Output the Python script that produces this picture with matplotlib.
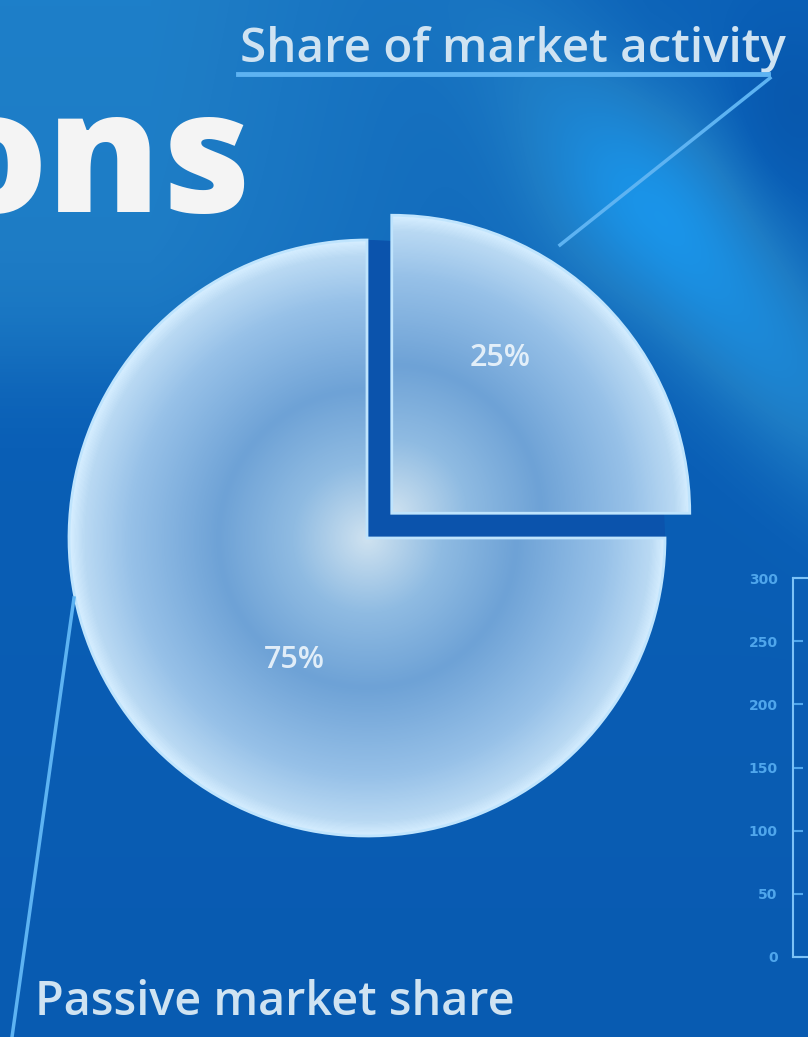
import numpy as np
import matplotlib.pyplot as plt
from matplotlib.colors import LinearSegmentedColormap
from matplotlib.patches import Wedge

# chart values
pie_labels = ['Share of market activity', 'Passive market share']
pie_values = [25, 75]
pie_pct = ['25%', '75%']
axis_ticks = [0, 50, 100, 150, 200, 250, 300]
title_fragment = 'ons'

W, H = 808, 1037
fig = plt.figure(figsize=(W / 100, H / 100), dpi=100)
ax = fig.add_axes([0, 0, 1, 1])


def fit_width(t, left, right):
    # scale a text so its drawn box spans left..right (pixels)
    r = fig.canvas.get_renderer()
    bb = t.get_window_extent(r)
    t.set_fontsize(t.get_fontsize() * (right - left) / bb.width)
    bb = t.get_window_extent(r)
    x, y = t.get_position()
    t.set_position((x + left - bb.x0, y))


# background: blue, lighter band at the top left, soft bright streak on the right
# (row 0 = top of picture)
yy, xx = np.mgrid[0:H, 0:W].astype(float)
field = 0.32 - 0.08 * (yy / H)
field += 0.2 / (1 + np.exp((yy - 360) / 35.0)) * np.clip(1.3 - xx / 500.0, 0, 1)
d = ((xx - 580) * 0.77 - (yy - 120) * 0.64)
along = ((xx - 580) * 0.64 + (yy - 120) * 0.77)
field += 0.33 * np.exp(-(d / 80.0) ** 2) * np.exp(-((along - 220) / 280.0) ** 2)
field += 0.15 * np.exp(-((xx - 640) / 110.0) ** 2 - ((yy - 200) / 110.0) ** 2)
field -= 0.12 * np.exp(-((xx - 790) / 60.0) ** 2 - ((yy - 110) / 90.0) ** 2)
field = np.clip(field, 0, 1)
bg_cmap = LinearSegmentedColormap.from_list(
    'bg', [(0, '#044c9f'), (0.3, '#0a5fb6'), (0.5, '#1e7dc6'), (0.75, '#1a95ea'), (1, '#3cb0f6')])
ax.imshow(field, extent=[0, W, 0, H], cmap=bg_cmap, vmin=0, vmax=1, zorder=0, aspect='auto')

# pie geometry (pixel space, y up)
cx, cy, r = 367, H - 538, 298
wedges, _ = ax.pie(pie_values, radius=r, center=(cx, cy), startangle=0,
                   counterclock=True, explode=[35, 0], frame=True,
                   wedgeprops=dict(linewidth=0))
ax.set_xlim(0, W)
ax.set_ylim(0, H)
ax.axis('off')

# dark band behind the pulled-out slice
shadow = Wedge((cx, cy), r, 0, 90, color='#0b53ac', zorder=1.5, linewidth=0)
ax.add_patch(shadow)

# glossy radial fill for each wedge
pie_cmap = LinearSegmentedColormap.from_list(
    'pie', [(0, '#cfe2f0'), (0.25, '#8fbbe2'), (0.5, '#6ea2d6'),
            (0.8, '#97c1e8'), (0.95, '#b9d9f3'), (1.0, '#d6eeff')])
for w in wedges:
    c = w.center
    rr = np.hypot(xx - c[0], (H - yy) - c[1]) / r
    img = ax.imshow(np.clip(rr, 0, 1), extent=[0, W, 0, H], cmap=pie_cmap,
                    vmin=0, vmax=1, zorder=2, aspect='auto')
    w.set_facecolor('none')
    w.set_edgecolor('#bfe4fd')
    w.set_linewidth(2)
    w.set_zorder(3)
    img.set_clip_path(w)

# percentage labels
for (px, py), s in zip([(500, 358), (294, 660)], pie_pct):
    ax.text(px, H - py, s, color='#eef6fc', fontsize=22, fontweight='semibold', ha='center',
            va='center', family='Open Sans', zorder=4, alpha=0.9)

# callouts
txt_col = '#cfe3f2'
line_col = '#5db3f2'
t1 = ax.text(240, H - 62, pie_labels[0], color=txt_col, fontsize=34, family='Open Sans',
             fontweight='semibold', ha='left', va='baseline', zorder=4)
fit_width(t1, 240, 785)
ax.plot([238, 768], [H - 74, H - 74], color=line_col, lw=3.5, zorder=4)
ax.plot([770, 560], [H - 78, H - 245], color=line_col, lw=2.5, zorder=4)

t2 = ax.text(35, H - 1015, pie_labels[1], color=txt_col, fontsize=34, family='Open Sans',
             fontweight='semibold', ha='left', va='baseline', zorder=4)
fit_width(t2, 35, 515)
ax.plot([74, 12], [H - 598, H - 1037], color=line_col, lw=2.5, zorder=4)

# big title fragment: right edge at x=250, baseline at y=212
ax.text(252, H - 212, title_fragment, color='#f4f4f4', fontsize=122, fontweight='heavy',
        family='Open Sans', ha='right', va='baseline', zorder=5)

# partial axis on the right edge
ax2 = fig.add_axes([793 / W, (H - 957) / H, 0.2, (957 - 578) / H])
ax2.set_facecolor('none')
ax2.set_ylim(0, 300)
ax2.set_yticks(axis_ticks)
ax2.set_xticks([])
ax2.tick_params(axis='y', colors='#4fa6ec', labelsize=10, length=7, width=1.5, direction='in', pad=11)
for lab in ax2.get_yticklabels():
    lab.set_fontweight('bold')
for s in ax2.spines.values():
    s.set_color('#7cc2f6')
    s.set_linewidth(1.5)

fig.savefig('out.png', dpi=100)
